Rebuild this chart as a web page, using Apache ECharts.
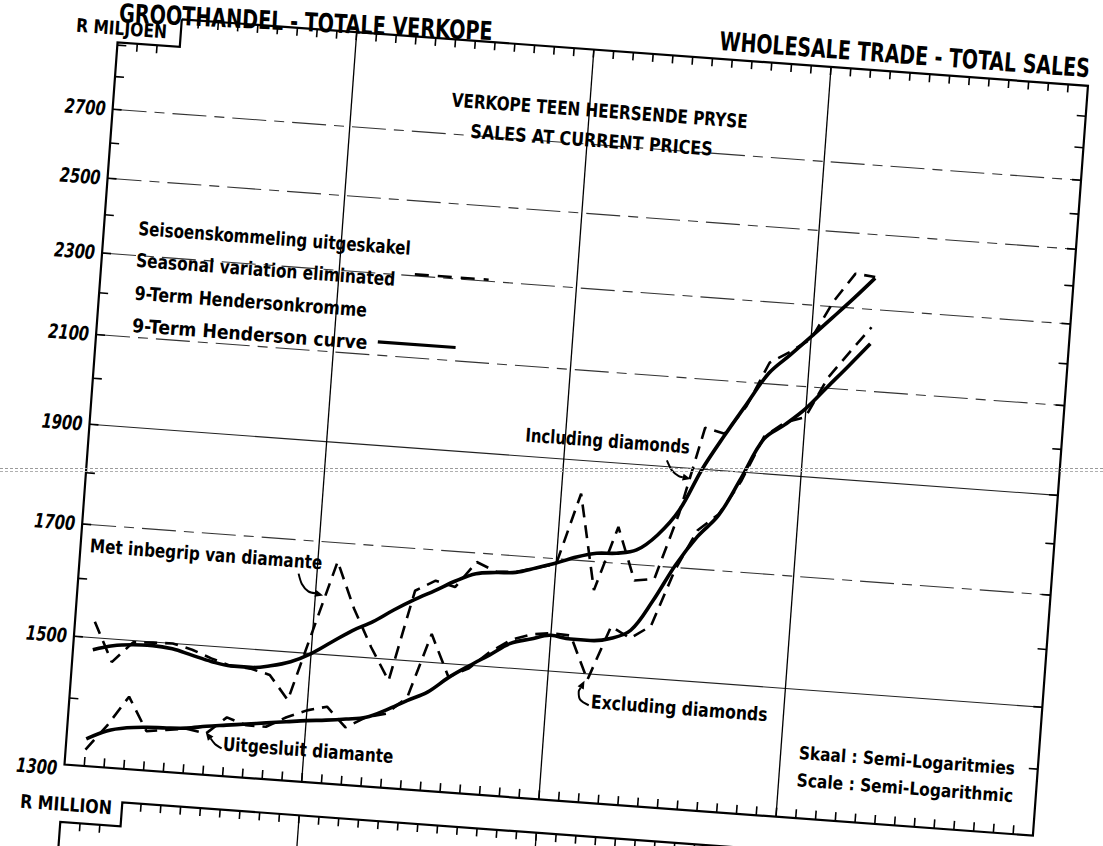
<!DOCTYPE html>
<html>
<head>
<meta charset="utf-8">
<script src="https://cdn.jsdelivr.net/npm/echarts/dist/echarts.min.js"></script>
<style>
html,body{margin:0;padding:0;background:#fff;overflow:hidden;width:1103px;height:846px;}
#chart{position:absolute;left:-100px;top:-100px;width:1303px;height:1046px;transform-origin:164.5px 864.5px;transform:rotate(4.2deg);}
#scanline{position:absolute;left:0;top:468px;width:1103px;height:2px;border-top:1px dashed #9a9a9a;border-bottom:1px dashed #b0b0b0;}
</style>
</head>
<body>
<div id="chart"></div>
<div id="scanline"></div>
<script>
// ---- data (monthly, month index from left edge of the chart) ----
const months = [1,2,3,4,5,6,7,8,9,10,11,12,13,14,15,16,17,18,19,20,21,22,23,24,25,26,27,28,29,30,31,32,33,34,35,36,37,38,39];
// Including diamonds – seasonal variation eliminated (R million)
const inclSA = [1527,1462,1497,1499,1500,1492,1480,1470,1468,1460,1422,1539,1665,1582,1518,1465,1622,1643,1634,1683,1668,1670,1680,1690,1831,1647,1770,1670,1676,1805,1990,1980,2045,2150,2180,2215,2314,2390,2385];
// Including diamonds – 9-term Henderson curve
const inclTrend = [1480,1489,1493,1494,1491,1483,1475,1470,1470,1475,1484,1500,1522,1544,1562,1585,1606,1625,1645,1661,1666,1669,1680,1692,1706,1716,1719,1728,1760,1812,1900,1976,2050,2125,2172,2221,2272,2325,2382];
// Excluding diamonds – seasonal variation eliminated
const exclSA = [1324,1362,1409,1358,1362,1366,1361,1388,1378,1378,1395,1408,1416,1386,1404,1412,1440,1548,1478,1495,1525,1548,1560,1565,1563,1490,1584,1566,1590,1695,1775,1810,1880,1980,2015,2030,2125,2190,2255];
// Excluding diamonds – 9-term Henderson curve
const exclTrend = [1340,1354,1361,1364,1365,1367,1372,1376,1380,1384,1388,1392,1395,1399,1404,1418,1435,1451,1477,1499,1520,1542,1552,1561,1557,1557,1563,1580,1635,1704,1762,1808,1888,1975,2010,2050,2103,2157,2214];
// axis
const yLabels = [1300,1500,1700,1900,2100,2300,2500,2700];
const yTicks = [1400,1500,1600,1700,1800,1900,2000,2100,2200,2300,2400,2500,2600,2700,2800,2900];
const gridSolid = [1500,1900];
const gridBroken = [1700,2100,2300,2500,2700];
const yearLines = [12,24,36];
const X_MIN = 0, X_MAX = 49, Y_MIN = 1300, Y_MAX = 3000;
const NOTCH_M = 3.15, NOTCH_V = 2909;

const OFF = 100;
const FAMILY = "'DejaVu Sans', 'Liberation Sans', sans-serif";
const mctx = document.createElement('canvas').getContext('2d');
function squeeze(s, font, targetW){ mctx.font = font; const w = mctx.measureText(s).width; return w > 0 ? targetW / w : 1; }

function pair(vals){ return months.map((m,i)=>[m, vals[i]]); }

const LABEL_FONT = 'italic bold 20px ' + FAMILY;
const LABEL_SX = squeeze('2700', LABEL_FONT, 41);

function renderFrame(params, api){
  const c = (m,v)=>api.coord([m,v]);
  const kids = [];
  const ln = (p1,p2,w,col,dash)=>kids.push({type:'line',shape:{x1:p1[0],y1:p1[1],x2:p2[0],y2:p2[1]},style:{stroke:col||'#000',lineWidth:w,lineDash:dash||null}});
  gridSolid.forEach(v=>ln(c(X_MIN,v),c(X_MAX,v),1.1,'#222'));
  gridBroken.forEach(v=>ln(c(X_MIN,v),c(X_MAX,v),1.1,'#333',[34,8,10,8]));
  yearLines.forEach(m=>ln(c(m,Y_MIN),c(m,Y_MAX),1.3));
  kids.push({type:'polyline',shape:{points:[c(NOTCH_M,Y_MAX),c(NOTCH_M,NOTCH_V),c(X_MIN,NOTCH_V),c(X_MIN,Y_MIN),c(X_MAX,Y_MIN),c(X_MAX,Y_MAX),c(NOTCH_M,Y_MAX)]},style:{stroke:'#000',lineWidth:2.2,fill:null}});
  for(let m=1;m<X_MAX;m++){
    const b=c(m,Y_MIN); ln(b,[b[0],b[1]-9],1.6);
    if(Math.abs(m-NOTCH_M)<0.5) continue;
    const t=c(m, m<NOTCH_M?NOTCH_V:Y_MAX); ln(t,[t[0],t[1]+8],1.6);
  }
  yTicks.forEach(v=>{
    const l=c(X_MIN,v); ln(l,[l[0]+9,l[1]],1.6);
    const r=c(X_MAX,v); ln(r,[r[0]-9,r[1]],1.6);
  });
  yLabels.forEach(v=>{
    const p=c(X_MIN,v);
    kids.push({type:'text',x:p[0]-7,y:p[1]+(v===Y_MIN?4:0),scaleX:LABEL_SX,
      style:{text:String(v),font:LABEL_FONT,fill:'#000',align:'right',verticalAlign:'middle'}});
  });
  // top frame of the next panel (R MILLION)
  const o=c(X_MIN,Y_MIN), e=c(X_MAX,Y_MIN), n=c(NOTCH_M-0.1,Y_MIN);
  const yTop=o[1]+33.5, yNotch=o[1]+57.5, yEnd=o[1]+300;
  kids.push({type:'polyline',shape:{points:[[o[0],yEnd],[o[0],yNotch],[n[0],yNotch],[n[0],yTop],[e[0],yTop],[e[0],yEnd]]},style:{stroke:'#000',lineWidth:2.2,fill:null}});
  for(let m=1;m<X_MAX;m++){
    if(Math.abs(m-NOTCH_M)<0.5) continue;
    const p=c(m,Y_MIN); const y0=m<NOTCH_M?yNotch:yTop; ln([p[0],y0],[p[0],y0+8],1.6);
  }
  yearLines.forEach(m=>{const p=c(m,Y_MIN); ln([p[0],yTop],[p[0],yEnd],1.3);});
  return {type:'group',children:kids};
}

// text placed by left edge, baseline, font size and the width it spans in the original
function txt(s, x, baseline, fs, width, rot){
  const font = 'bold ' + fs + 'px ' + FAMILY;
  return {type:'text', x:x+OFF, y:baseline-0.35*fs+OFF, z:20, rotation:rot||0,
    scaleX:squeeze(s, font, width),
    style:{text:s, font:font, fill:'#000', align:'left', verticalAlign:'middle'}};
}
function seg(x1,y1,x2,y2,w,dash){
  return {type:'line', z:20, shape:{x1:x1+OFF,y1:y1+OFF,x2:x2+OFF,y2:y2+OFF}, style:{stroke:'#000',lineWidth:w,lineDash:dash||null}};
}
function arrow(pts, tip, len, half){
  const last=pts[pts.length-1];
  const dx=tip[0]-last[0], dy=tip[1]-last[1], L=Math.hypot(dx,dy), ux=dx/L, uy=dy/L;
  const bx=tip[0]-ux*len, by=tip[1]-uy*len;
  const sh=p=>[p[0]+OFF,p[1]+OFF];
  return [
    {type:'polyline', z:20, shape:{points:pts.concat([[bx,by]]).map(sh), smooth:0.3}, style:{stroke:'#000',lineWidth:2,fill:null}},
    {type:'polygon', z:20, shape:{points:[tip,[bx-uy*half,by+ux*half],[bx+uy*half,by-ux*half]].map(sh)}, style:{fill:'#000'}}
  ];
}

const graphics = [
  txt('GROOTHANDEL - TOTALE VERKOPE', 64, 20, 26, 374, 0.025),
  txt('WHOLESALE TRADE - TOTAL SALES', 665, 4, 26, 371),
  txt('R MILJOEN', 22, 33, 19, 91),
  txt('VERKOPE TEEN HEERSENDE PRYSE', 402, 80, 19, 297),
  txt('SALES AT CURRENT PRICES', 423, 110, 19, 243),
  txt('Seisoenskommeling uitgeskakel', 99, 231, 19, 273),
  txt('Seasonal variation eliminated', 99, 263, 19, 260),
  txt('9-Term Hendersonkromme', 100, 296, 19, 233),
  txt('9-Term Henderson curve', 100, 328, 19, 236),
  seg(378,250,452,250,2.6,[14,9]),
  seg(346,320,424,320,3.2),
  txt('Met inbegrip van diamante', 74, 551, 19, 233),
  txt('Uitgesluit diamante', 221, 739, 19, 171),
  txt('Including diamonds', 500, 408.6, 19, 165),
  txt('Excluding diamonds', 585, 670, 19, 177),
  txt('Skaal : Semi-Logaritmies', 796, 705, 18, 217),
  txt('Scale : Semi-Logarithmic', 796, 732.5, 18, 217),
  txt('R MILLION', 23, 811, 19, 92)
].concat(
  arrow([[284,557],[288,567],[295,574]],[310,577],8,3.5),
  arrow([[220,737],[213,733]],[203,722],8,3.5),
  arrow([[643,417],[649,427],[656,432]],[668,434],8,3.5),
  arrow([[583,667],[574,662],[572,654]],[577,643],8,3.5)
);

const chart = echarts.init(document.getElementById('chart'), null, {renderer:'svg'});
chart.setOption({
  animation:false,
  backgroundColor:'#fff',
  grid:{left:64.5+OFF, top:12.7+OFF, width:971, height:751.8, containLabel:false, outerBoundsMode:'none'},
  xAxis:{type:'value', min:X_MIN, max:X_MAX, show:false},
  yAxis:{type:'log', logBase:10, min:Y_MIN, max:Y_MAX, show:false},
  graphic:graphics,
  series:[
    {type:'custom', name:'frame', coordinateSystem:'cartesian2d', data:[[X_MIN,Y_MIN]], renderItem:renderFrame, silent:true, clip:false, z:1},
    {type:'line', name:'Including diamonds (seasonally adjusted)', data:pair(inclSA), symbol:'none', z:3,
     lineStyle:{color:'#000', width:2.6, type:[13,8]}},
    {type:'line', name:'Excluding diamonds (seasonally adjusted)', data:pair(exclSA), symbol:'none', z:3,
     lineStyle:{color:'#000', width:2.6, type:[13,8]}},
    {type:'line', name:'Including diamonds (Henderson)', data:pair(inclTrend), symbol:'none', smooth:0.35, z:4,
     lineStyle:{color:'#000', width:3.6}},
    {type:'line', name:'Excluding diamonds (Henderson)', data:pair(exclTrend), symbol:'none', smooth:0.35, z:4,
     lineStyle:{color:'#000', width:3.6}}
  ]
});
</script>
</body>
</html>
